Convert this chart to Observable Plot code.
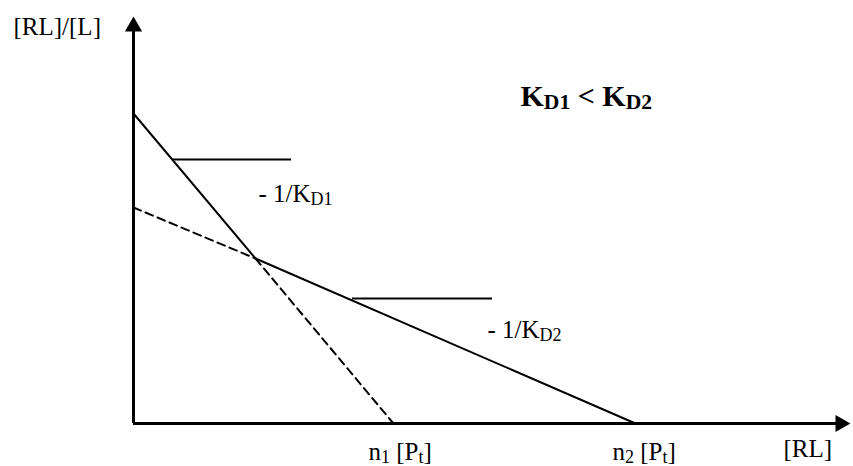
<!DOCTYPE html>
<html>
<head>
<meta charset="utf-8">
<script src="https://cdn.jsdelivr.net/npm/d3@7"></script>
<script src="https://cdn.jsdelivr.net/npm/@observablehq/plot@0.6"></script>
<style>
  html, body { margin: 0; padding: 0; background: #fff; }
  #chart svg { display: block; background: #fff; }
</style>
</head>
<body>
<div id="chart"></div>
<script>
// Scatchard plot: two classes of binding sites (arbitrary units)
const steepRL = [0, 12.2, 26.0];        // [RL] points of the high-affinity line (ends at n1[Pt])
const steepRatio = [31.0, 16.5, 0];     // [RL]/[L]
const shallowRL = [0, 12.2, 50.2];      // [RL] points of the low-affinity line (ends at n2[Pt])
const shallowRatio = [21.6, 16.5, 0];
const slope1RL = [3.9, 15.8];            // horizontal slope marker for -1/KD1
const slope1Ratio = 26.4;
const slope2RL = [21.9, 35.9];           // horizontal slope marker for -1/KD2
const slope2Ratio = 12.5;
const xMax = 71.7, yMax = 40.7;

const labelTexts = ["- 1/K_{D1}", "- 1/K_{D2}", "n_{1} [P_{t}]", "n_{2} [P_{t}]", "[RL]", "[RL]/[L]"];
const labelX = [12.5, 35.4, 23.5, 47.9, 65.0, -12.0];
const labelY = [22.2, 8.6, -3.6, -3.6, -3.3, 38.9];
const titleText = "K_{D1} < K_{D2}";

const pts = (xs, ys, i0, i1) => [i0, i1].map(i => ({x: xs[i], y: ys[i]}));
const labels = labelTexts.map((t, i) => ({t, x: labelX[i], y: labelY[i]}));

const chart = Plot.plot({
  width: 853, height: 466,
  marginLeft: 133, marginRight: 3, marginTop: 16, marginBottom: 43,
  x: {domain: [0, xMax], axis: null},
  y: {domain: [0, yMax], axis: null},
  style: {fontFamily: "'Liberation Serif', 'Times New Roman', serif", background: "#fff"},
  marks: [
    // axes
    Plot.ruleY([0], {x1: 0, x2: xMax - 1.0, stroke: "black", strokeWidth: 3}),
    Plot.ruleX([0], {y1: 0, y2: yMax - 1.2, stroke: "black", strokeWidth: 3}),
    Plot.dot([{x: xMax, y: 0}], {x: "x", y: "y", symbol: "triangle", r: 6.4, rotate: 90, dx: -10, fill: "black", stroke: null}),
    Plot.dot([{x: 0, y: yMax}], {x: "x", y: "y", symbol: "triangle", r: 6.4, dy: 10, fill: "black", stroke: null}),
    // lines
    Plot.line(pts(steepRL, steepRatio, 0, 1), {x: "x", y: "y", stroke: "black", strokeWidth: 2}),
    Plot.line(pts(steepRL, steepRatio, 1, 2), {x: "x", y: "y", stroke: "black", strokeWidth: 2, strokeDasharray: "8,5"}),
    Plot.line(pts(shallowRL, shallowRatio, 0, 1), {x: "x", y: "y", stroke: "black", strokeWidth: 2, strokeDasharray: "8,5"}),
    Plot.line(pts(shallowRL, shallowRatio, 1, 2), {x: "x", y: "y", stroke: "black", strokeWidth: 2}),
    // slope markers
    Plot.ruleY([slope1Ratio], {x1: slope1RL[0], x2: slope1RL[1], stroke: "black", strokeWidth: 2}),
    Plot.ruleY([slope2Ratio], {x1: slope2RL[0], x2: slope2RL[1], stroke: "black", strokeWidth: 2}),
    // labels
    Plot.text(labels, {x: "x", y: "y", text: "t", textAnchor: "start", lineAnchor: "bottom", fontSize: 25, fill: "black", clip: false}),
    Plot.text([{t: titleText, x: 38.7, y: 31.8}], {x: "x", y: "y", text: "t", textAnchor: "start", lineAnchor: "bottom", fontSize: 30, fontWeight: "bold", fill: "black"})
  ]
});

// turn "_{...}" into real subscript tspans
const NS = "http://www.w3.org/2000/svg";
chart.querySelectorAll("text").forEach(t => {
  const s = t.textContent;
  if (!s.includes("_{")) return;
  const parts = s.split(/(_\{[^}]*\})/).filter(p => p.length);
  t.textContent = "";
  let shifted = false;
  parts.forEach(p => {
    const ts = document.createElementNS(NS, "tspan");
    if (p.startsWith("_{")) {
      ts.textContent = p.slice(2, -1);
      ts.setAttribute("font-size", "72%");
      if (!shifted) { ts.setAttribute("dy", "3"); shifted = true; }
    } else {
      ts.textContent = p;
      if (shifted) { ts.setAttribute("dy", "-3"); shifted = false; }
    }
    t.appendChild(ts);
  });
});

document.getElementById("chart").appendChild(chart);
</script>
</body>
</html>
